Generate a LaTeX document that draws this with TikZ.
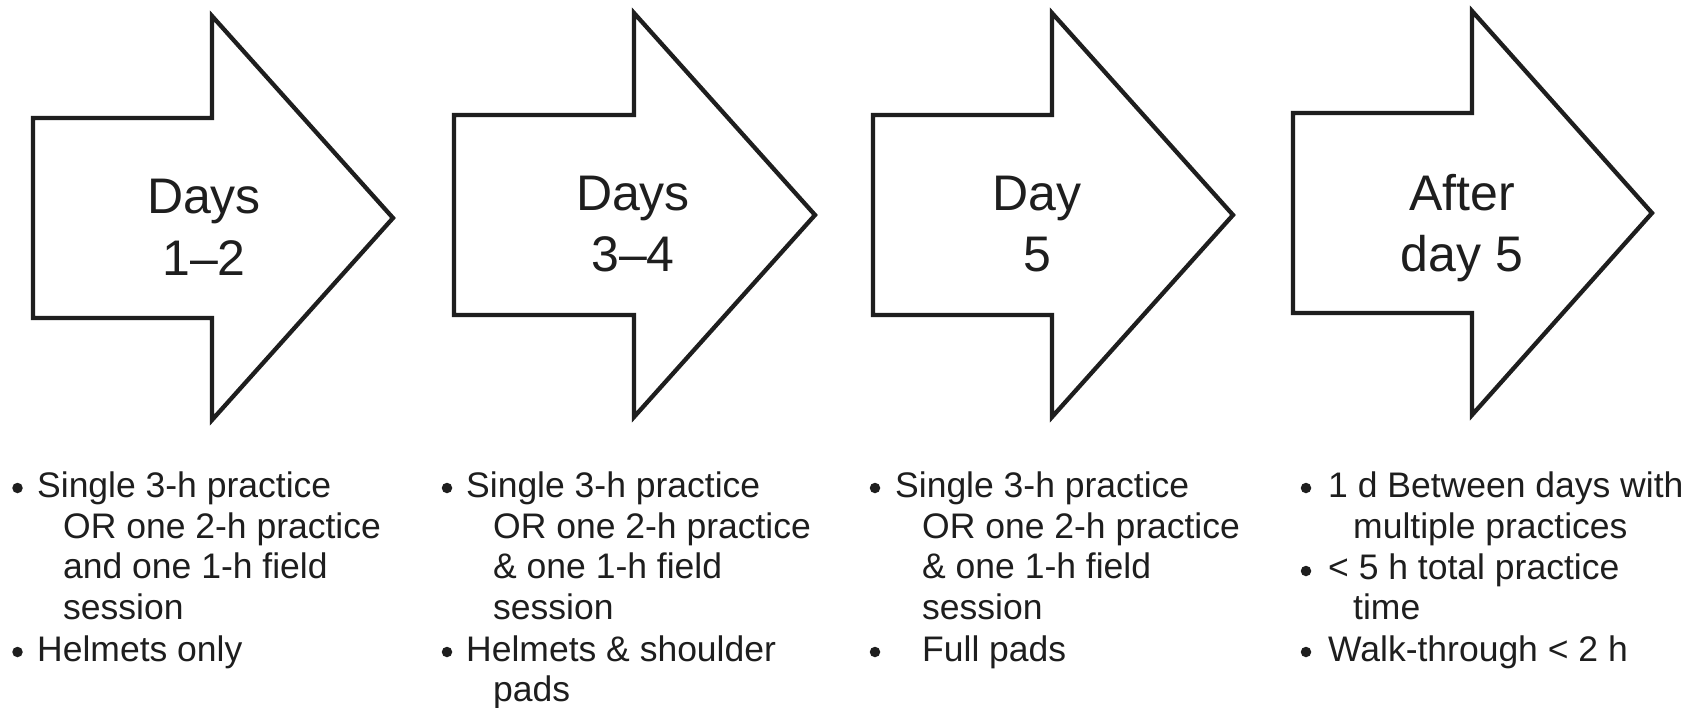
\documentclass[tikz,border=0pt]{standalone}
\usepackage{fontspec}
\setmainfont{Liberation Sans}
\definecolor{ink}{RGB}{30,30,30}
\begin{document}
\begin{tikzpicture}[x=1pt,y=-1pt,
  arrowshape/.style={draw=ink,line width=4.3pt,line join=miter,fill=white},
  title/.style={anchor=base,inner sep=0pt,text=ink,font=\fontsize{50}{60}\selectfont},
  bodytext/.style={anchor=base west,inner sep=0pt,text=ink,font=\fontsize{35.5}{41}\selectfont},
  dotmark/.style={circle,fill=ink,inner sep=0pt,minimum size=10.5pt}]
\useasboundingbox[fill=white] (0,0) rectangle (1689,707);
% arrows: left x, head-back x, tip x, vertical offset
\foreach \l/\b/\t/\d in {33/212/393/3, 454/634/815/0, 873/1052/1233/0, 1293/1472/1652/-2}{
  \draw[arrowshape] (\l,115+\d) -- (\b,115+\d) -- (\b,13+\d) -- (\t,215+\d)
     -- (\b,417+\d) -- (\b,315+\d) -- (\l,315+\d) -- cycle;
}
% titles
\node[title] (t1a) at (204,213) {Days};
\node[title] (t1b) at (204,275) {1–2};
\node[title] (t2a) at (633,210) {Days};
\node[title] (t2b) at (633,271) {3–4};
\node[title] (t3a) at (1037,210) {Day};
\node[title] (t3b) at (1037,271) {5};
\node[title] (t4a) at (1462,210) {After};
\node[title] (t4b) at (1462,271) {day 5};
% column 1
\node[dotmark] (c1d1) at (17.5,488) {};
\node[bodytext] (c1l1) at (37,497) {Single 3-h practice};
\node[bodytext] (c1l2) at (63,538) {OR one 2-h practice};
\node[bodytext] (c1l3) at (63,578) {and one 1-h field};
\node[bodytext] (c1l4) at (63,619) {session};
\node[dotmark] (c1d2) at (17.5,652) {};
\node[bodytext] (c1l5) at (37,661) {Helmets only};
% column 2
\node[dotmark] (c2d1) at (447,488) {};
\node[bodytext] (c2l1) at (466,497) {Single 3-h practice};
\node[bodytext] (c2l2) at (493,538) {OR one 2-h practice};
\node[bodytext] (c2l3) at (493,578) {\& one 1-h field};
\node[bodytext] (c2l4) at (493,619) {session};
\node[dotmark] (c2d2) at (447,652) {};
\node[bodytext] (c2l5) at (466,661) {Helmets \& shoulder};
\node[bodytext] (c2l6) at (493,701) {pads};
% column 3
\node[dotmark] (c3d1) at (875,488) {};
\node[bodytext] (c3l1) at (895,497) {Single 3-h practice};
\node[bodytext] (c3l2) at (922,538) {OR one 2-h practice};
\node[bodytext] (c3l3) at (922,578) {\& one 1-h field};
\node[bodytext] (c3l4) at (922,619) {session};
\node[dotmark] (c3d2) at (875,652) {};
\node[bodytext] (c3l5) at (922,661) {Full pads};
% column 4
\node[dotmark] (c4d1) at (1306,488) {};
\node[bodytext] (c4l1) at (1328,497) {1 d Between days with};
\node[bodytext] (c4l2) at (1353,538) {multiple practices};
\node[dotmark] (c4d2) at (1306,571) {};
\node[bodytext] (c4l3) at (1328,579) {< 5 h total practice};
\node[bodytext] (c4l4) at (1353,619) {time};
\node[dotmark] (c4d3) at (1306,652) {};
\node[bodytext] (c4l5) at (1328,661) {Walk-through < 2 h};
\end{tikzpicture}
\end{document}
